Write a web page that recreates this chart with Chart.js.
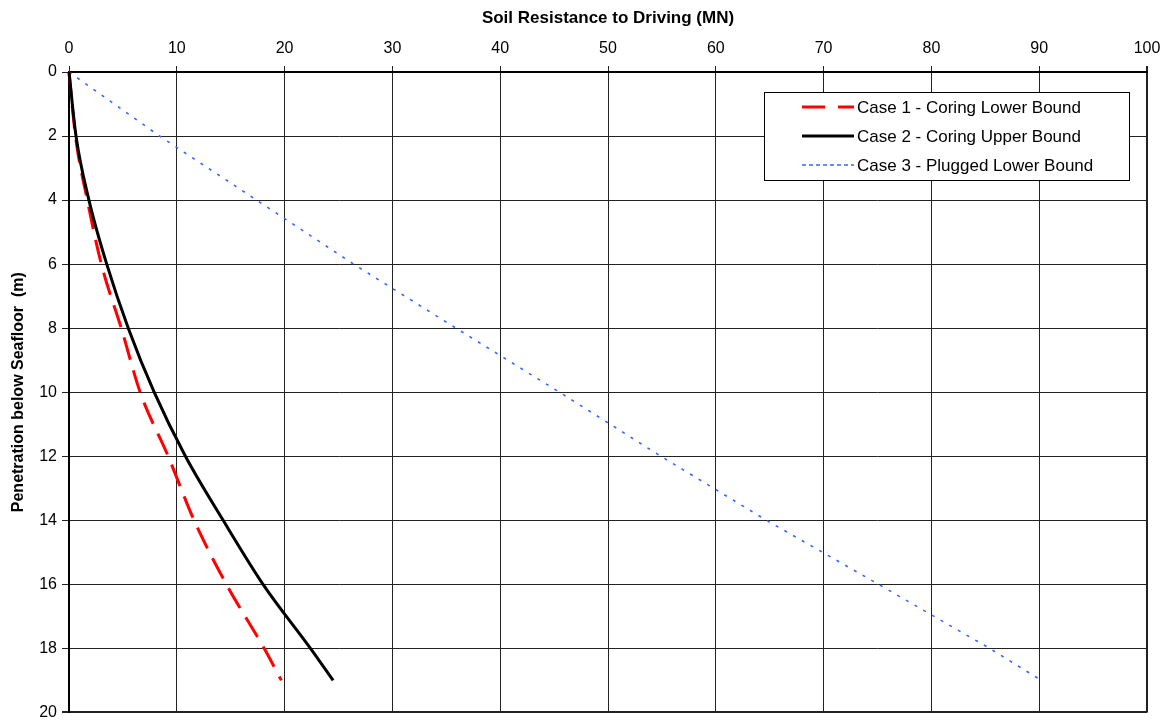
<!DOCTYPE html>
<html>
<head>
<meta charset="utf-8">
<script src="https://cdn.jsdelivr.net/npm/chart.js@4.4.1/dist/chart.umd.min.js"></script>
<style>
html, body { margin: 0; padding: 0; background: #fff; }
#wrap { width: 1172px; height: 727px; }
</style>
</head>
<body>
<div id="wrap"><canvas id="chart" width="1172" height="727"></canvas></div>
<script>
// penetration below seafloor (m)
const depth = [0, 2, 4, 6, 8, 10, 12, 14, 16, 18, 19];
// soil resistance to driving (MN)
const case1 = [0, 0.6, 1.7, 3.0, 4.85, 6.6, 9.2, 11.6, 14.6, 18.1, 19.7];
const case2 = [0, 0.65, 1.85, 3.5, 5.5, 7.9, 10.8, 14.3, 18.0, 22.4, 24.5];
const case3 = [0, 8.4, 17.4, 26.4, 35.9, 45.5, 54.9, 64.7, 75.1, 85.4, 90.2];
const seriesNames = ["Case 1 - Coring Lower Bound", "Case 2 - Coring Upper Bound", "Case 3 - Plugged Lower Bound"];
const xTicks = [0, 10, 20, 30, 40, 50, 60, 70, 80, 90, 100];
const yTicks = [0, 2, 4, 6, 8, 10, 12, 14, 16, 18, 20];

const fam = '"Liberation Sans", Arial, sans-serif';

function pts(vals) {
    return depth.map((d, i) => ({x: vals[i], y: d}));
}

// legend box inside the plot, like the excel one
const boxLegend = {
    id: 'boxLegend',
    afterDraw(chart) {
        const ctx = chart.ctx;
        const x0 = 764, y0 = 92, w = 365, h = 88;
        ctx.save();
        ctx.fillStyle = '#fff';
        ctx.fillRect(x0, y0, w, h);
        ctx.strokeStyle = '#000';
        ctx.lineWidth = 1;
        ctx.strokeRect(x0 + 0.5, y0 + 0.5, w, h);
        chart.data.datasets.forEach((ds, i) => {
            let y = 107 + i * 29;
            ctx.beginPath();
            ctx.setLineDash(ds.legendDash || []);
            ctx.strokeStyle = ds.borderColor;
            ctx.lineWidth = ds.borderWidth;
            ctx.moveTo(802, y);
            ctx.lineTo(854, y);
            ctx.stroke();
            ctx.setLineDash([]);
            ctx.fillStyle = '#000';
            ctx.font = '17px ' + fam;
            ctx.textBaseline = 'middle';
            ctx.fillText(ds.label, 857, y + 1);
        });
        ctx.restore();
    }
};

const edgeWidth = (ctx, last) => (ctx.tick && ctx.tick.value === last ? 2 : 1);

new Chart(document.getElementById("chart"), {
    type: 'scatter',
    data: {
        datasets: [{
            label: seriesNames[0],
            data: pts(case1),
            showLine: true,
            cubicInterpolationMode: 'monotone',
            borderColor: "#ff0000",
            borderWidth: 3,
            borderDash: [23, 11],
            legendDash: [23, 13],
            pointRadius: 0,
            order: 1
        }, {
            label: seriesNames[1],
            data: pts(case2),
            showLine: true,
            cubicInterpolationMode: 'monotone',
            borderColor: "#000000",
            borderWidth: 3,
            pointRadius: 0,
            order: 0
        }, {
            label: seriesNames[2],
            data: pts(case3),
            showLine: true,
            borderColor: "#3366ff",
            borderWidth: 1.6,
            borderDash: [3, 7],
            legendDash: [4, 3],
            pointRadius: 0,
            order: 2
        }]
    },
    options: {
        responsive: false,
        animation: false,
        clip: false,
        layout: {padding: {top: 0, left: 0, right: 25, bottom: 9}},
        plugins: {legend: {display: false}, tooltip: {enabled: false}},
        scales: {
            x: {
                type: 'linear',
                position: 'top',
                min: 0,
                max: 100,
                afterBuildTicks: s => { s.ticks = xTicks.map(v => ({value: v})); },
                afterFit: s => { s.height = 72; },
                title: {
                    display: true,
                    text: 'Soil Resistance to Driving (MN)',
                    color: '#000',
                    font: {family: fam, size: 17, weight: 'bold'},
                    padding: {top: 8, bottom: 0}
                },
                ticks: {color: '#000', font: {family: fam, size: 16}, padding: 8, maxRotation: 0},
                grid: {color: '#222', lineWidth: c => edgeWidth(c, 100), tickLength: 6},
                border: {color: '#000', width: 2}
            },
            y: {
                type: 'linear',
                reverse: true,
                min: 0,
                max: 20,
                afterBuildTicks: s => { s.ticks = yTicks.map(v => ({value: v})); },
                afterFit: s => { s.width = 69; },
                title: {
                    display: true,
                    text: 'Penetration below Seafloor  (m)',
                    color: '#000',
                    font: {family: fam, size: 16, weight: 'bold'},
                    padding: {top: 9, bottom: 0}
                },
                ticks: {color: '#000', font: {family: fam, size: 16}, padding: 5},
                grid: {color: '#222', lineWidth: c => edgeWidth(c, 20), tickLength: 7},
                border: {color: '#000', width: 2}
            }
        }
    },
    plugins: [boxLegend]
});
</script>
</body>
</html>
